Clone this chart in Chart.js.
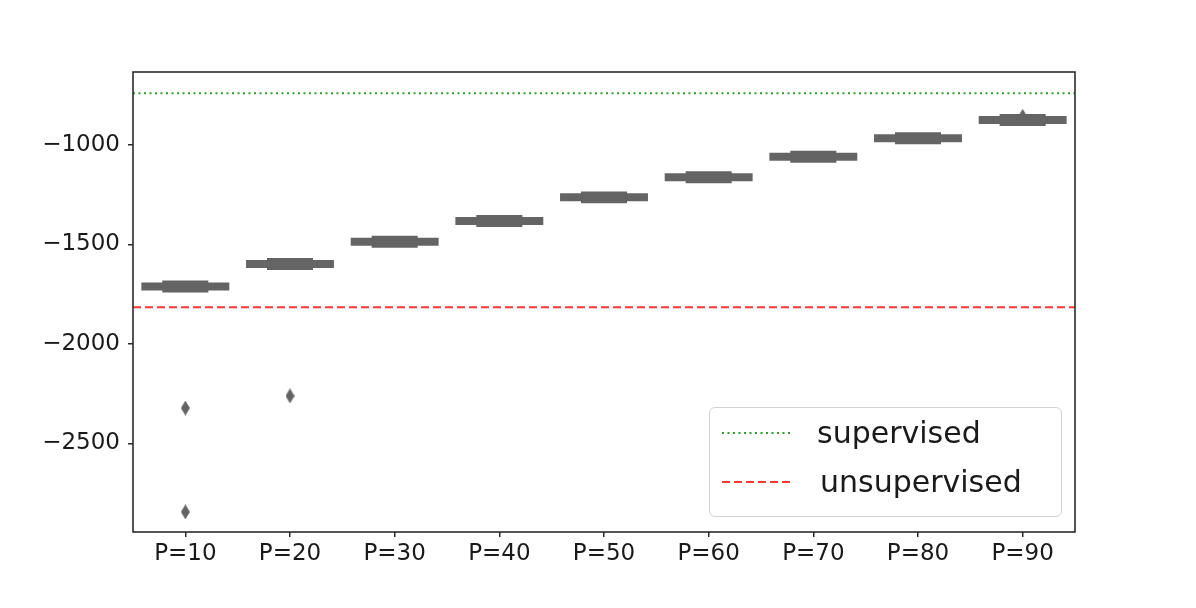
<!DOCTYPE html>
<html>
<head>
<meta charset="utf-8">
<script src="https://cdn.jsdelivr.net/npm/chart.js@4.4.1/dist/chart.umd.min.js"></script>
<style>
  body { margin: 0; background: #fff; }
  #wrap { position: relative; width: 1196px; height: 608px; }
  #legendBox {
    position: absolute; left: 709px; top: 407px; width: 351px; height: 108px;
    border: 1px solid #d2d2d2; border-radius: 6px; background: rgba(255,255,255,0.8);
    font-family: "DejaVu Sans", sans-serif; font-size: 30px; color: #1a1a1a;
  }
  #legendBox .item { position: absolute; left: 0; height: 30px; line-height: 30px; white-space: nowrap; }
  #legendBox svg { position: absolute; left: 12px; top: 11px; }
  #legendBox span { position: absolute; left: 108px; top: 0; }
</style>
</head>
<body>
<div id="wrap">
  <canvas id="mychart" width="1196" height="608"></canvas>
  <div id="legendBox"></div>
</div>
<script>
//DATA---------------------------------------------------------------
const categories = ["P=10", "P=20", "P=30", "P=40", "P=50", "P=60", "P=70", "P=80", "P=90"];
// box (q1..q3) per category
const q1 = [-1731, -1618, -1506, -1402, -1283, -1182, -1079, -986, -894];
const q3 = [-1691, -1578, -1466, -1362, -1243, -1142, -1039, -946, -854];
// whisker ends
const whiskerLo = [-1741, -1628, -1516, -1412, -1293, -1192, -1089, -996, -904];
const whiskerHi = [-1681, -1568, -1456, -1352, -1233, -1132, -1029, -936, -844];
// outliers
const outlierCats = ["P=10", "P=10", "P=20", "P=90"];
const outlierVals = [-2322, -2844, -2261, -856];
// reference lines
const supervisedVal = -740;
const unsupervisedVal = -1815;
const yTicks = [-2500, -2000, -1500, -1000];
const yMin = -2945;
const yMax = -633;
//-------------------------------------------------------------------

const boxColor = "#646464";
const greenColor = "#2ca02c";
const redColor = "rgba(255,20,20,0.85)";

// thin diamond marker like seaborn 'd'
function thinDiamond() {
  const c = document.createElement("canvas");
  c.width = 9; c.height = 15;
  const ctx = c.getContext("2d");
  ctx.fillStyle = boxColor;
  ctx.beginPath();
  ctx.moveTo(4.5, 0); ctx.lineTo(9, 7.5); ctx.lineTo(4.5, 15); ctx.lineTo(0, 7.5);
  ctx.closePath(); ctx.fill();
  return c;
}

//frame around plot area
const framePlugin = {
  id: "frame",
  afterDraw(chart) {
    const a = chart.chartArea;
    const ctx = chart.ctx;
    ctx.save();
    ctx.strokeStyle = "#2b2b2b";
    ctx.lineWidth = 1.6;
    ctx.strokeRect(a.left, a.top, a.right - a.left, a.bottom - a.top);
    ctx.restore();
  }
};

const tickFont = { family: "DejaVu Sans", size: 23 };

const data = {
  labels: categories,
  datasets: [
    {
      type: "bar",
      label: "box",
      data: q1.map((v, i) => [v, q3[i]]),
      backgroundColor: boxColor,
      borderWidth: 0,
      barPercentage: 0.84,
      categoryPercentage: 1,
      grouped: false,
      order: 2
    },
    {
      type: "bar",
      label: "whiskers",
      data: whiskerLo.map((v, i) => [v, whiskerHi[i]]),
      backgroundColor: boxColor,
      borderWidth: 0,
      barPercentage: 0.44,
      categoryPercentage: 1,
      grouped: false,
      order: 2
    },
    {
      type: "scatter",
      label: "outliers",
      data: outlierCats.map((c, i) => ({ x: c, y: outlierVals[i] })),
      pointStyle: thinDiamond(),
      backgroundColor: boxColor,
      order: 3
    },
    {
      type: "line",
      label: "supervised",
      xAxisID: "x2",
      data: [{ x: 0, y: supervisedVal }, { x: 1, y: supervisedVal }],
      borderColor: greenColor,
      borderWidth: 2,
      borderDash: [2, 3.5],
      pointRadius: 0,
      order: 1
    },
    {
      type: "line",
      label: "unsupervised",
      xAxisID: "x2",
      data: [{ x: 0, y: unsupervisedVal }, { x: 1, y: unsupervisedVal }],
      borderColor: redColor,
      borderWidth: 2,
      borderDash: [8, 4],
      pointRadius: 0,
      order: 1
    }
  ]
};

const config = {
  type: "bar",
  data: data,
  options: {
    responsive: false,
    animation: false,
    devicePixelRatio: 1,
    layout: { padding: { left: 0, top: 72, right: 121, bottom: 0 } },
    plugins: { legend: { display: false }, tooltip: { enabled: false } },
    scales: {
      x: {
        type: "category",
        offset: true,
        border: { display: false },
        grid: { display: true, drawOnChartArea: false, drawTicks: true, tickLength: 5, offset: false, color: "#2b2b2b", lineWidth: 1.5 },
        ticks: { font: tickFont, color: "#1a1a1a", padding: 3, maxRotation: 0 },
        afterFit(scale) { scale.height = 76; }
      },
      x2: { type: "linear", min: 0, max: 1, offset: false, bounds: "data", display: false },
      y: {
        min: yMin,
        max: yMax,
        border: { display: false },
        grid: { display: true, drawOnChartArea: false, drawTicks: true, tickLength: 5, color: "#2b2b2b", lineWidth: 1.5 },
        ticks: {
          font: tickFont, color: "#1a1a1a", padding: 8,
          callback: (v) => String(v).replace("-", "\u2212")
        },
        afterBuildTicks(scale) { scale.ticks = yTicks.map(v => ({ value: v })); },
        afterFit(scale) { scale.width = 133; }
      }
    }
  },
  plugins: [framePlugin]
};

const myChart = new Chart(document.getElementById("mychart"), config);

//LEGEND (html, from the line datasets)-------------------------------
function buildLegend() {
  const box = document.getElementById("legendBox");
  const lines = myChart.data.datasets.filter(d => d.type === "line");
  lines.forEach((d, i) => {
    const item = document.createElement("div");
    item.className = "item";
    item.style.top = (10 + i * 49) + "px";
    item.style.width = "100%";
    const dash = d.borderDash.join(" ");
    item.innerHTML =
      '<svg width="70" height="8"><line x1="0" y1="4" x2="68" y2="4" stroke="' + d.borderColor +
      '" stroke-width="2" stroke-dasharray="' + dash + '"/></svg>' +
      '<span style="left:' + (i === 0 ? 107 : 110) + 'px">' + d.label + '</span>';
    box.appendChild(item);
  });
}
buildLegend();
</script>
</body>
</html>
